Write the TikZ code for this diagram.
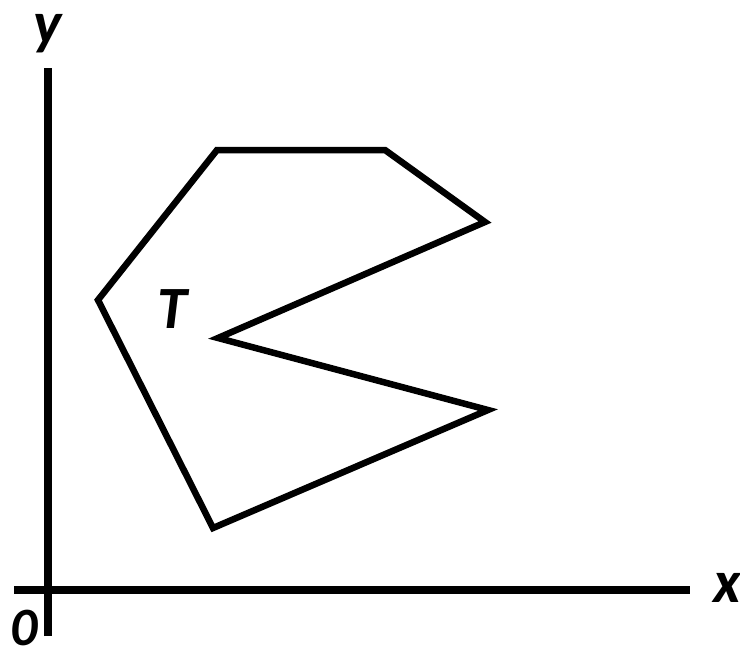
\documentclass[tikz,border=0pt]{standalone}
\usepackage{fontspec}
\setmainfont{Carlito}
\usetikzlibrary{positioning}
\tikzset{
    axis/.style={line width=7.5pt},
    outline/.style={line width=6.5pt,line join=miter},
    lbl/.style={font=\fontsize{60}{60}\selectfont\bfseries\itshape,inner sep=0pt}
}
\begin{document}
\begin{tikzpicture}[x=1pt,y=-1pt]
    \useasboundingbox (0,0) rectangle (740,653);
    % axes
    \coordinate (ytop) at (48,68);
    \coordinate (ybot) at (48,636);
    \coordinate (xleft) at (14,590);
    \coordinate (xright) at (690,590);
    \draw[axis] (ybot) -- (ytop);
    \draw[axis] (xleft) -- (xright);
    \node[lbl] (ylab) at (48,34) {y};
    \node[lbl] (xlab) at (727,588) {x};
    \node[lbl,font=\fontsize{54}{54}\selectfont\bfseries\itshape] (orig) at (24,628) {0};
    % region T
    \coordinate (p1) at (217,150);
    \coordinate (p2) at (385,150);
    \coordinate (p3) at (485,222);
    \coordinate (p4) at (218,338);
    \coordinate (p5) at (488,410);
    \coordinate (p6) at (213,528);
    \coordinate (p7) at (98,300);
    \draw[outline] (p1) -- (p2) -- (p3) -- (p4) -- (p5) -- (p6) -- (p7) -- cycle;
    \node[lbl] (tlab) at (172,309) {T};
\end{tikzpicture}
\end{document}
